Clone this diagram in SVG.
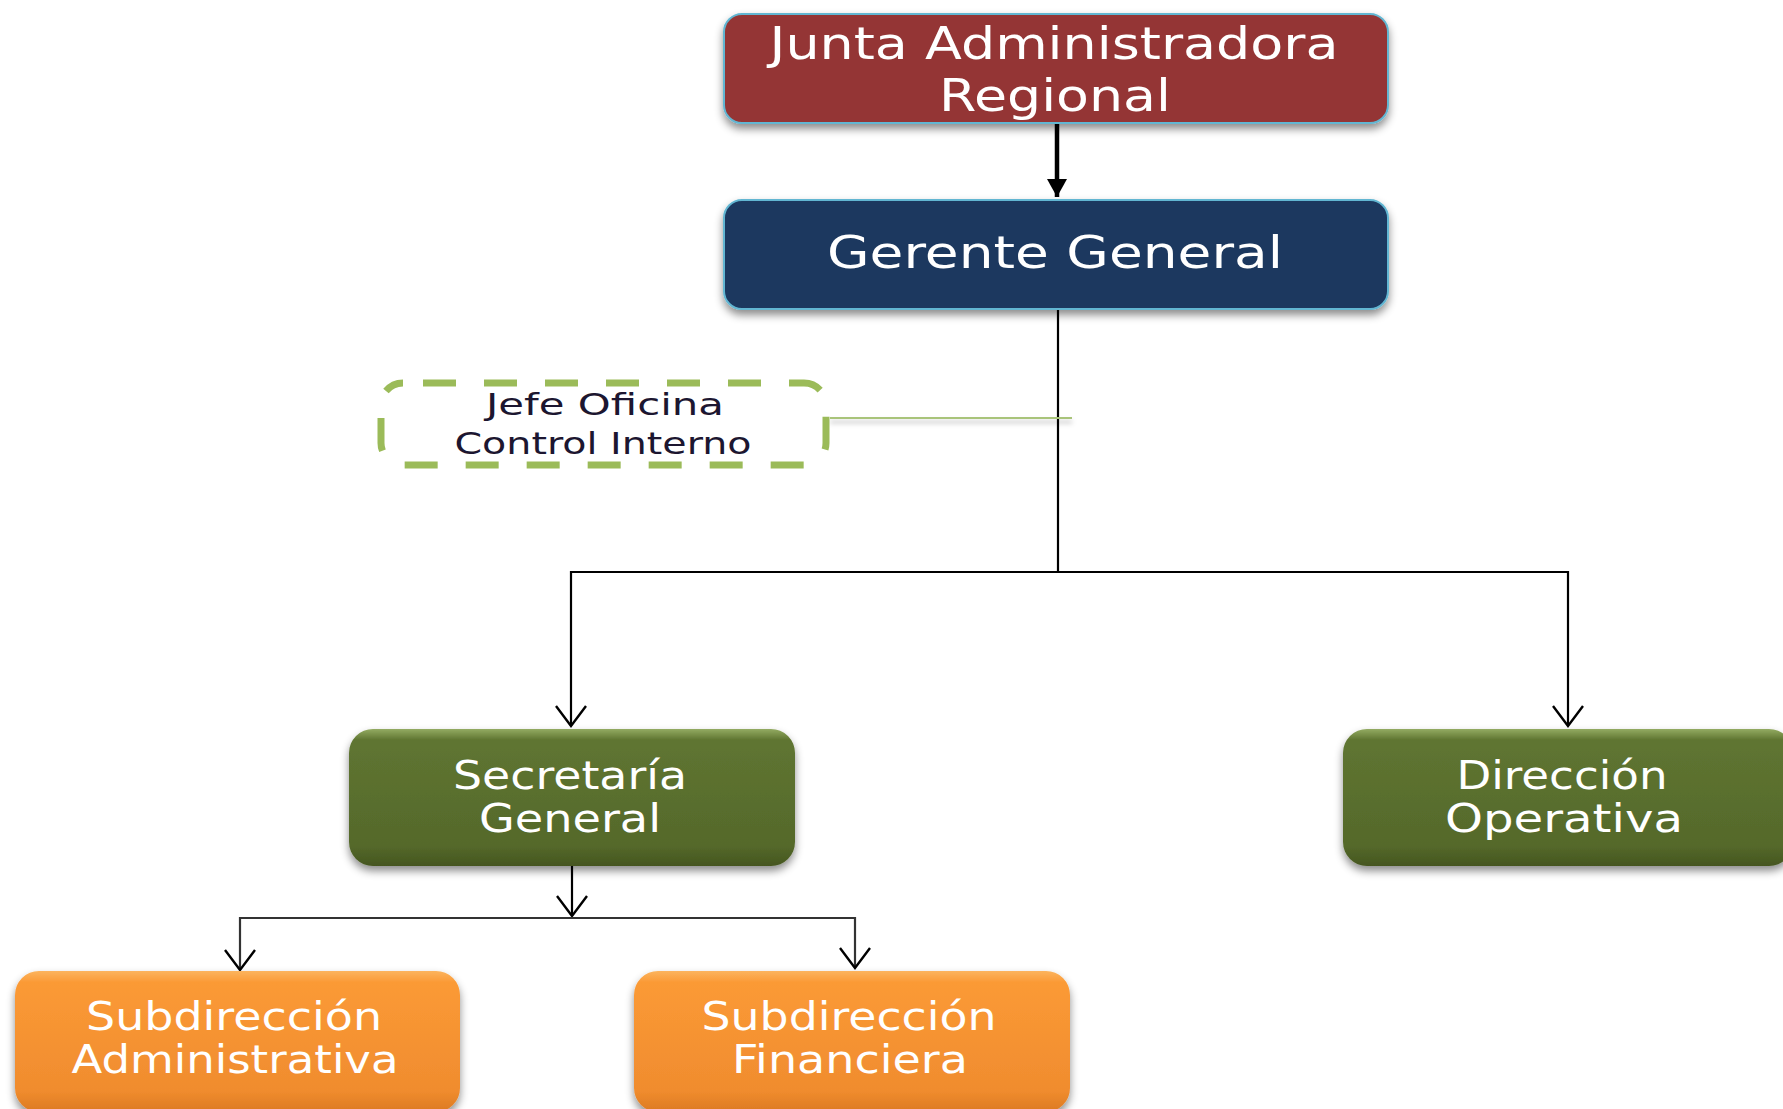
<svg xmlns="http://www.w3.org/2000/svg" width="1783" height="1109" viewBox="0 0 1783 1109">
  <style>
    .t { font-family: "DejaVu Sans", "Liberation Sans", sans-serif; text-anchor: middle; fill: #ffffff; }
    .tl { font-size: 44px; }
    .tm { font-size: 39px; }
    .ts { font-size: 31px; fill: #1c1630; }
    .conn { fill: none; stroke: #000; stroke-width: 2.2; }
  </style>
  <defs>
    <filter id="sh" x="-10%" y="-10%" width="120%" height="130%">
      <feDropShadow dx="0" dy="5" stdDeviation="4" flood-color="#000" flood-opacity="0.45"/>
    </filter>
    <filter id="lsh" filterUnits="userSpaceOnUse" x="820" y="405" width="270" height="35">
      <feDropShadow dx="0" dy="4" stdDeviation="2.5" flood-color="#000" flood-opacity="0.3"/>
    </filter>
    <linearGradient id="gGreen" x1="0" y1="0" x2="0" y2="1">
      <stop offset="0" stop-color="#93ab62"/>
      <stop offset="0.08" stop-color="#5f7531"/>
      <stop offset="0.85" stop-color="#55692b"/>
      <stop offset="1" stop-color="#45561f"/>
    </linearGradient>
    <linearGradient id="gOrange" x1="0" y1="0" x2="0" y2="1">
      <stop offset="0" stop-color="#fcb45e"/>
      <stop offset="0.08" stop-color="#fb9a36"/>
      <stop offset="0.85" stop-color="#f08c2e"/>
      <stop offset="1" stop-color="#dc7a22"/>
    </linearGradient>
    <marker id="open" viewBox="0 0 24 34" refX="21" refY="17" markerWidth="24" markerHeight="34" markerUnits="userSpaceOnUse" orient="auto">
      <path d="M1,2 L21,17 L1,32" fill="none" stroke="#000" stroke-width="2.4"/>
    </marker>
    <marker id="filled" viewBox="0 0 20 22" refX="18" refY="11" markerWidth="20" markerHeight="22" markerUnits="userSpaceOnUse" orient="auto">
      <path d="M0,1 L18,11 L0,21 Z" fill="#000"/>
    </marker>
  </defs>

  <g id="connectors">
    <line x1="1057" y1="123" x2="1057" y2="197" stroke="#000" stroke-width="4.5" marker-end="url(#filled)"/>
    <line x1="1058" y1="309" x2="1058" y2="573" class="conn"/>
    <line x1="830" y1="418" x2="1072" y2="418" stroke="#a9c47a" stroke-width="2" filter="url(#lsh)"/>
    <polyline points="1058,572 571,572 571,726" class="conn" marker-end="url(#open)"/>
    <polyline points="1058,572 1568,572 1568,726" class="conn" marker-end="url(#open)"/>
    <line x1="572" y1="866" x2="572" y2="916" class="conn" marker-end="url(#open)"/>
    <polyline points="572,918 240,918 240,970" fill="none" stroke="#333" stroke-width="2.2" marker-end="url(#open)"/>
    <polyline points="572,918 855,918 855,968" fill="none" stroke="#333" stroke-width="2.2" marker-end="url(#open)"/>
  </g>

  <g id="junta">
    <rect x="724" y="14" width="664" height="109" rx="18" fill="#943634" stroke="#62b6d2" stroke-width="2" filter="url(#sh)"/>
    <text class="t tl" x="1054" y="59" textLength="569" lengthAdjust="spacingAndGlyphs">Junta Administradora</text>
    <text class="t tl" x="1055" y="111" textLength="232" lengthAdjust="spacingAndGlyphs">Regional</text>
  </g>

  <g id="gerente">
    <rect x="724" y="200" width="664" height="109" rx="18" fill="#1b375e" stroke="#62b6d2" stroke-width="2" filter="url(#sh)"/>
    <text class="t tl" x="1055" y="268" textLength="456" lengthAdjust="spacingAndGlyphs">Gerente General</text>
  </g>

  <g id="jefe">
    <rect x="381" y="383" width="445" height="82" rx="22" fill="none" stroke="#9bbb59" stroke-width="7" stroke-dasharray="33 28" stroke-dashoffset="-20"/>
    <text class="t ts" x="605" y="415" textLength="238" lengthAdjust="spacingAndGlyphs">Jefe Oficina</text>
    <text class="t ts" x="603" y="454" textLength="297" lengthAdjust="spacingAndGlyphs">Control Interno</text>
  </g>

  <g id="secretaria">
    <rect x="349" y="729" width="446" height="137" rx="24" fill="url(#gGreen)" filter="url(#sh)"/>
    <text class="t tm" x="570" y="789" textLength="234" lengthAdjust="spacingAndGlyphs">Secretaría</text>
    <text class="t tm" x="570" y="832" textLength="182" lengthAdjust="spacingAndGlyphs">General</text>
  </g>

  <g id="direccion">
    <rect x="1343" y="729" width="450" height="137" rx="24" fill="url(#gGreen)" filter="url(#sh)"/>
    <text class="t tm" x="1562" y="789" textLength="211" lengthAdjust="spacingAndGlyphs">Dirección</text>
    <text class="t tm" x="1564" y="832" textLength="238" lengthAdjust="spacingAndGlyphs">Operativa</text>
  </g>

  <g id="subadmin">
    <rect x="15" y="971" width="445" height="141" rx="24" fill="url(#gOrange)" filter="url(#sh)"/>
    <text class="t tm" x="234" y="1030" textLength="296" lengthAdjust="spacingAndGlyphs">Subdirección</text>
    <text class="t tm" x="235" y="1073" textLength="327" lengthAdjust="spacingAndGlyphs">Administrativa</text>
  </g>

  <g id="subfin">
    <rect x="634" y="971" width="436" height="141" rx="24" fill="url(#gOrange)" filter="url(#sh)"/>
    <text class="t tm" x="849" y="1030" textLength="295" lengthAdjust="spacingAndGlyphs">Subdirección</text>
    <text class="t tm" x="850" y="1073" textLength="236" lengthAdjust="spacingAndGlyphs">Financiera</text>
  </g>
</svg>
